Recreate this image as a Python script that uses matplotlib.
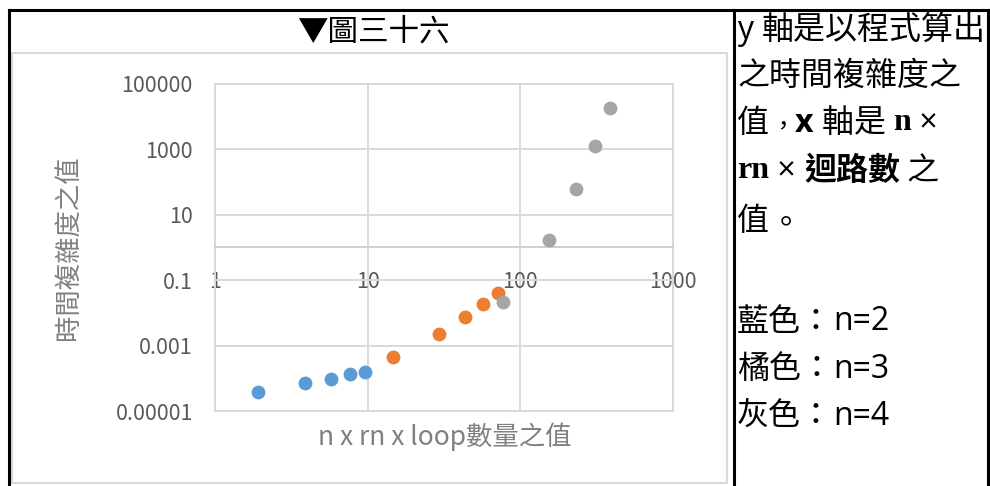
import matplotlib.pyplot as plt
from matplotlib.patches import Rectangle
from matplotlib.lines import Line2D
from matplotlib.ticker import FixedLocator, NullLocator
from matplotlib.transforms import offset_copy

# Valeurs lues pour chaque série (n = 2, 3, 4)
x_bleu = [1.9, 3.9, 5.75, 7.7, 9.6]
y_bleu = [3.9e-5, 7.3e-5, 9.7e-5, 1.32e-4, 1.52e-4]
x_orange = [14.6, 29.4, 43.2, 57.3, 71.8]
y_orange = [4.4e-4, 2.3e-3, 7.7e-3, 0.0187, 0.0397]
x_gris = [76.5, 155, 230, 307, 385]
y_gris = [0.0215, 1.7, 63, 1260, 18800]

# Graduations des axes
ticks_x = [1, 10, 100, 1000]
labels_x = ['1', '10', '100', '1000']
ticks_y = [1e-5, 1e-3, 1e-1, 10, 1e3, 1e5]
labels_y = ['0.00001', '0.001', '0.1', '10', '1000', '100000']

titre = '▼圖三十六'
titre_y = '時間複雜度之值'
titre_x = 'n x rn x loop數量之值'

CJK = ['Noto Sans CJK TC', 'DejaVu Sans']
plt.rcParams['font.family'] = CJK

LARG, HAUT = 990, 486
fig = plt.figure(figsize=(LARG / 100, HAUT / 100), dpi=100)
fig.set_facecolor('white')


def fx(px):
    return px / LARG


def fy(py):
    return 1 - py / HAUT


# Bordures noires du tableau
noir = dict(color='black', lw=2.2, transform=fig.transFigure, solid_capstyle='projecting')
fig.add_artist(Line2D([fx(8.5), fx(987.5)], [fy(10.5), fy(10.5)], **noir))
fig.add_artist(Line2D([fx(8.5), fx(8.5)], [fy(10.5), fy(490)], **noir))
fig.add_artist(Line2D([fx(733.5), fx(733.5)], [fy(10.5), fy(490)], **noir))
fig.add_artist(Line2D([fx(987.5), fx(987.5)], [fy(10.5), fy(490)], **noir))

# Cadre gris du graphique
fig.add_artist(Rectangle((fx(12), fy(482.5)), fx(726.5) - fx(12), fy(53.5) - fy(482.5),
                         transform=fig.transFigure, fill=False, ec='#d9d9d9', lw=1.5))

fig.text(fx(373), fy(32), titre, ha='center', va='center', fontsize=22,
         color='black', weight='light')

ax = fig.add_axes([fx(215), fy(411), fx(673) - fx(215), fy(84) - fy(411)])
ax.set_xscale('log')
ax.set_yscale('log')
ax.set_xlim(1, 1000)
ax.set_ylim(1e-5, 1e5)

ax.xaxis.set_major_locator(FixedLocator(ticks_x))
ax.yaxis.set_major_locator(FixedLocator(ticks_y))
ax.xaxis.set_minor_locator(NullLocator())
ax.yaxis.set_minor_locator(NullLocator())
ax.set_xticklabels(labels_x)
ax.set_yticklabels(labels_y)
ax.tick_params(length=0, labelsize=15.5, labelcolor='#595959')
ax.tick_params(axis='y', pad=16)
ax.tick_params(axis='x', pad=17)

gris_grille = '#d9d9d9'
ax.grid(True, color=gris_grille, lw=1.4)
for cote in ['left', 'top', 'right']:
    ax.spines[cote].set_color(gris_grille)
    ax.spines[cote].set_linewidth(1.4)
# l'axe horizontal croise à y = 1
ax.spines['bottom'].set_position(('data', 1))
ax.spines['bottom'].set_color('#cfcfcf')
ax.spines['bottom'].set_linewidth(1.4)
ax.axhline(1e-5, color=gris_grille, lw=1.4, clip_on=False)
ax.set_axisbelow(True)

ax.scatter(x_bleu, y_bleu, s=80, color='#5B9BD5', zorder=3, clip_on=False)
ax.scatter(x_orange, y_orange, s=80, color='#ED7D31', zorder=3, clip_on=False)
ax.scatter(x_gris, y_gris, s=80, color='#A5A5A5', zorder=3, clip_on=False)

fig.text(fx(68), fy(248), titre_y, rotation=90, ha='center', va='center',
         fontsize=19, color='#808080')
fig.text(fx(445), fy(437), titre_x, ha='center', va='center', fontsize=19, color='#808080')

# Texte de la colonne de droite, écrit morceau par morceau
rendu = fig.canvas.get_renderer()
TAILLE = 23
norm = dict(family=CJK, fontsize=TAILLE, color='black', weight='light')
ponct = dict(family=CJK, fontsize=18, color='black', weight='light')
latin = dict(family=['Open Sans', 'DejaVu Sans'], fontsize=TAILLE, color='black')
latin_gras = dict(family=['Open Sans', 'DejaVu Sans'], fontsize=TAILLE, color='black', weight='bold')
serif_gras = dict(family=['Liberation Serif', 'DejaVu Serif'], fontsize=TAILLE, color='black', weight='bold')
cjk_gras = dict(family=CJK, fontsize=TAILLE, color='black', weight='bold')


def ligne(px, py, morceaux):
    # chaque morceau : (texte, style) ou (texte, style, dx, dy) pour décaler la ponctuation
    for m in morceaux:
        texte, props = m[0], m[1]
        dx, dy = (m[2], m[3]) if len(m) > 2 else (0, 0)
        tr = offset_copy(fig.transFigure, fig=fig, x=dx, y=dy, units='dots')
        t = fig.text(fx(px), fy(py), texte, ha='left', va='center', transform=tr, **props)
        px += t.get_window_extent(rendu).width + dx


ligne(737, 30, [('y ', latin), ('軸是以程式算出', norm)])
ligne(737, 76, [('之時間複雜度之', norm)])
ligne(737, 123, [('值', norm), ('，', ponct, 1, -3), ('x ', latin_gras), ('軸是 ', norm),
                 ('n', serif_gras), (' ×', latin)])
ligne(737, 171, [('rn', serif_gras), (' × ', latin), ('迴路數', cjk_gras), (' 之', norm)])
ligne(737, 221, [('值', norm), ('。', norm, 1, -2)])
ligne(737, 322, [('藍色：', norm), ('n=2', latin)])
ligne(737, 370, [('橘色：', norm), ('n=3', latin)])
ligne(737, 416, [('灰色：', norm), ('n=4', latin)])

fig.savefig('out.png', dpi=100, facecolor='white')
